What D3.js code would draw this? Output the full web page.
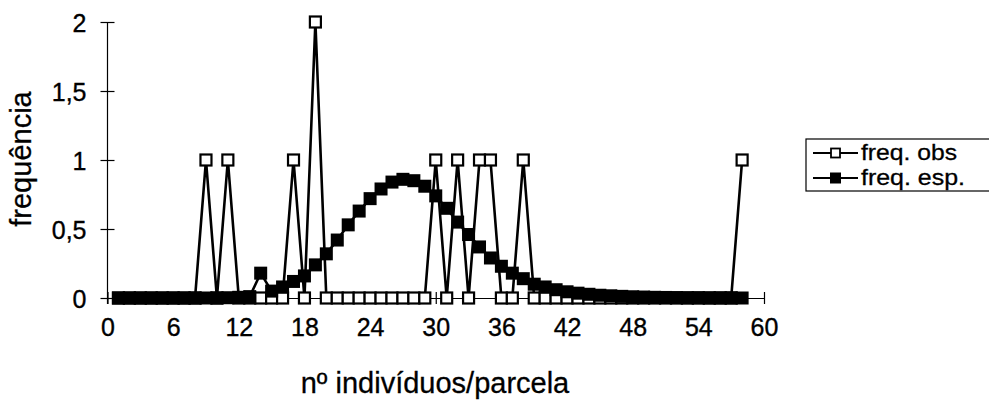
<!DOCTYPE html>
<html>
<head>
<meta charset="utf-8">
<script src="https://cdn.jsdelivr.net/npm/d3@7"></script>
<style>
  html, body { margin: 0; padding: 0; background: #fff; }
  svg { display: block; font-family: "Liberation Sans", Arial, sans-serif; }
</style>
</head>
<body>
<svg id="chart" width="989" height="403"></svg>
<script>
// number of individuals per plot (x categories)
const classes = d3.range(1, 59);
// observed frequency per class
const freqObs = [
  0, 0, 0, 0, 0, 0, 0, 0, 1, 0,
  1, 0, 0, 0, 0, 0, 1, 0, 2, 0,
  0, 0, 0, 0, 0, 0, 0, 0, 0, 1,
  0, 1, 0, 1, 1, 0, 0, 1, 0, 0,
  0, 0, 0, 0, 0, 0, 0, 0, 0, 0,
  0, 0, 0, 0, 0, 0, 0, 1
];
// expected frequency per class
const freqEsp = [
  0, 0, 0, 0, 0, 0, 0, 0, 0, 0,
  0.002, 0.005, 0.01, 0.18, 0.05, 0.08, 0.12, 0.16, 0.24, 0.32,
  0.42, 0.53, 0.63, 0.72, 0.79, 0.84, 0.86, 0.85, 0.81, 0.74,
  0.65, 0.55, 0.46, 0.37, 0.29, 0.23, 0.18, 0.14, 0.10, 0.08,
  0.06, 0.045, 0.035, 0.027, 0.02, 0.016, 0.012, 0.009, 0.007, 0.005,
  0.004, 0.003, 0.002, 0.002, 0.001, 0.001, 0.001, 0
];
const xTicks = [0, 6, 12, 18, 24, 30, 36, 42, 48, 54, 60];
const yTicks = [0, 0.5, 1, 1.5, 2];
const yTickLabels = ["0", "0,5", "1", "1,5", "2"];
const seriesNames = ["freq. obs", "freq. esp."];

const svg = d3.select("#chart");
const x = d3.scaleLinear().domain([0, 60]).range([107.5, 764]);
const y = d3.scaleLinear().domain([0, 2]).range([298, 22]);

const textStyle = sel => sel.attr("fill", "#000").attr("stroke", "#000")
  .attr("stroke-width", 0.35).attr("font-family", "Liberation Sans, Arial, sans-serif");

// axes with cross-type tick marks
const yAxis = svg.append("g").attr("transform", `translate(${x(0)},0)`)
  .call(d3.axisLeft(y).tickValues(yTicks).tickSize(7).tickSizeOuter(0)
    .tickFormat((d, i) => yTickLabels[i]));
yAxis.selectAll(".tick line").attr("x2", 7).attr("x1", -7);
yAxis.select(".domain").attr("d", `M0,${y(2)}V${y(0) + 6}`);

const xAxis = svg.append("g").attr("transform", `translate(0,${y(0)})`)
  .call(d3.axisBottom(x).tickValues(xTicks).tickSize(6).tickSizeOuter(0).tickFormat(d3.format("d")));
xAxis.selectAll(".tick line").attr("y1", -6).attr("y2", 6);

[yAxis, xAxis].forEach(g => {
  g.selectAll("path, line").attr("stroke", "#000").attr("stroke-width", 1.2);
  g.selectAll("text").attr("font-size", 25).call(textStyle);
});
yAxis.selectAll("text").attr("x", -21).attr("dy", "0.36em");
xAxis.selectAll("text").attr("y", 29).attr("dy", "0.36em");

// axis titles
svg.append("text")
  .attr("transform", `translate(31,${y(1) - 1}) rotate(-90)`)
  .attr("text-anchor", "middle").attr("font-size", 29)
  .call(textStyle).attr("stroke-width", 0.3)
  .text("frequência");
svg.append("text")
  .attr("x", 435).attr("y", 393).attr("text-anchor", "middle")
  .attr("font-size", 29)
  .call(textStyle).attr("stroke-width", 0.3)
  .text("nº indivíduos/parcela");

const obsData = classes.map((c, i) => ({ c, v: freqObs[i] }));
const espData = classes.map((c, i) => ({ c, v: freqEsp[i] }));
const line = d3.line().x(d => x(d.c)).y(d => y(d.v));

const plot = svg.append("g");
plot.append("path").datum(obsData).attr("d", line)
  .attr("fill", "none").attr("stroke", "#000").attr("stroke-width", 2.6);
plot.append("path").datum(espData).attr("d", line)
  .attr("fill", "none").attr("stroke", "#000").attr("stroke-width", 2.6);

const ms = 11;
plot.append("g").selectAll("rect").data(obsData).join("rect")
  .attr("x", d => x(d.c) - ms / 2).attr("y", d => y(d.v) - ms / 2)
  .attr("width", ms).attr("height", ms)
  .attr("fill", "#fff").attr("stroke", "#000").attr("stroke-width", 2.2);
plot.append("g").selectAll("rect").data(espData).join("rect")
  .attr("x", d => x(d.c) - ms / 2 - 1).attr("y", d => y(d.v) - ms / 2 - 1)
  .attr("width", ms + 2).attr("height", ms + 2)
  .attr("fill", "#000");

// legend
const lg = svg.append("g");
lg.append("rect").attr("x", 806).attr("y", 139).attr("width", 190).attr("height", 52)
  .attr("fill", "#fff").attr("stroke", "#000").attr("stroke-width", 1.2);
const legendWidths = [96, 104];
seriesNames.forEach((name, i) => {
  const ly = 153 + i * 25;
  lg.append("line").attr("x1", 813).attr("x2", 858).attr("y1", ly).attr("y2", ly)
    .attr("stroke", "#000").attr("stroke-width", 2.2);
  if (i === 0) {
    lg.append("rect").attr("x", 831).attr("y", ly - 4.5).attr("width", 9).attr("height", 9)
      .attr("fill", "#fff").attr("stroke", "#000").attr("stroke-width", 1.8);
  } else {
    lg.append("rect").attr("x", 830).attr("y", ly - 5.5).attr("width", 11).attr("height", 11)
      .attr("fill", "#000");
  }
  lg.append("text").attr("x", 861).attr("y", ly).attr("dy", "0.34em")
    .attr("font-size", 21.5).attr("textLength", legendWidths[i])
    .attr("lengthAdjust", "spacingAndGlyphs")
    .call(textStyle).attr("stroke-width", 0.3).text(name);
});
</script>
</body>
</html>
